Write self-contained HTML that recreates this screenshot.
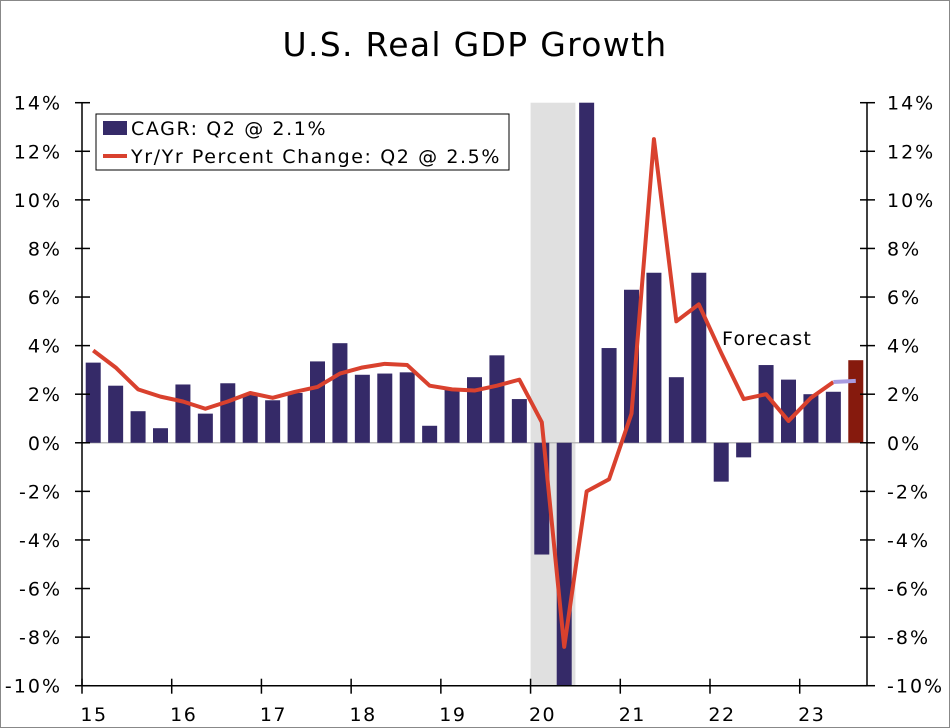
<!DOCTYPE html>
<html><head><meta charset="utf-8"><style>
body{margin:0;background:#fff}
svg{display:block;font-family:"DejaVu Sans","Liberation Sans",sans-serif}
</style></head><body>
<svg id="chart" width="950" height="728" viewBox="0 0 950 728">
<rect x="0.5" y="0.5" width="949" height="727" fill="#fff" stroke="#888"/>
<text x="475" y="56" text-anchor="middle" font-size="33" letter-spacing="1.3" fill="#000">U.S. Real GDP Growth</text>
<g id="plot"></g>
</svg>
<script>
const years = ["15","16","17","18","19","20","21","22","23"];
const yTicks = [14,12,10,8,6,4,2,0,-2,-4,-6,-8,-10];
const cagr = [3.3,2.35,1.3,0.6, 2.4,1.2,2.45,2.0, 1.75,2.05,3.35,4.1, 2.8,2.85,2.9,0.7, 2.2,2.7,3.6,1.8, -4.6,-29.9,35.0,3.9, 6.3,7.0,2.7,7.0, -1.6,-0.6,3.2,2.6, 2.0,2.1,3.4];
const forecastStart = 34;
const yoy = [3.8,3.1,2.2,1.9, 1.7,1.4,1.7,2.05, 1.85,2.1,2.3,2.85, 3.1,3.25,3.2,2.35, 2.2,2.15,2.35,2.6, 0.85,-8.4,-2.0,-1.5, 1.2,12.5,5.0,5.7, 3.7,1.8,2.0,0.9, 1.85,2.5,2.55];
const recession = [20, 22];

const NS="http://www.w3.org/2000/svg";
const g=document.getElementById('plot');
const X0=82, X1=867, Y0=102.7, Y1=685.7, YMIN=-10, YMAX=14, NQ=35;
const qw=(X1-X0)/NQ;
const xq=i=>X0+(i+0.5)*qw;
const xs=i=>X0+i*qw;
const ys=v=>Y1-(Math.max(YMIN,Math.min(YMAX,v))-YMIN)/(YMAX-YMIN)*(Y1-Y0);
function el(t,a,p){const e=document.createElementNS(NS,t);for(const k in a)e.setAttribute(k,a[k]);(p||g).appendChild(e);return e;}

const rs=el('rect',{x:xs(recession[0]),y:Y0,width:xs(recession[1])-xs(recession[0]),height:Y1-Y0,fill:'#e0e0e0'});



const zl=el('line',{x1:X0,x2:X1,y1:ys(0),y2:ys(0),stroke:'#bbb','stroke-width':1.5});



const bw=15;
cagr.forEach((v,i)=>{
  const y=ys(Math.max(v,0)), h=Math.abs(ys(v)-ys(0));
  const b=el('rect',{x:xq(i)-bw/2,y:y,width:bw,height:h,fill:i>=forecastStart?'#861a0d':'#352a68'});
  
  
});

const pts=yoy.slice(0,forecastStart).map((v,i)=>xq(i)+','+ys(v)).join(' ');
const ln=el('polyline',{points:pts,fill:'none',stroke:'#d9412e','stroke-width':4,'stroke-linejoin':'round'});


const fp=yoy.slice(forecastStart-1).map((v,i)=>xq(i+forecastStart-1)+','+ys(v)).join(' ');
const fl=el('polyline',{points:fp,fill:'none',stroke:'#a89be0','stroke-width':4});



const la=el('line',{x1:X0,x2:X0,y1:Y0,y2:Y1,stroke:'#000','stroke-width':1.5});


const ra=el('line',{x1:X1,x2:X1,y1:Y0,y2:Y1,stroke:'#000','stroke-width':1.5});


const ba=el('line',{x1:X0,x2:X1,y1:Y1,y2:Y1,stroke:'#000','stroke-width':1.5});



yTicks.forEach(v=>{
  const y=ys(v);
  el('line',{x1:X0-7,x2:X0+8,y1:y,y2:y,stroke:'#000','stroke-width':1.5});
  el('line',{x1:X1-7,x2:X1+8,y1:y,y2:y,stroke:'#000','stroke-width':1.5});
  const t1=el('text',{x:62,y:y+7,'text-anchor':'end','font-size':19,'letter-spacing':2});
  t1.textContent=v+'%';
  
  
  const t2=el('text',{x:887,y:y+7,'font-size':19,'letter-spacing':2});
  t2.textContent=v+'%';
  
  
});
years.forEach((yr,i)=>{
  const x=xs(i*4);
  el('line',{x1:x,x2:x,y1:Y1-7,y2:Y1+8,stroke:'#000','stroke-width':1.5});
  const t=el('text',{x:x+12,y:721,'text-anchor':'middle','font-size':19,'letter-spacing':1.5});
  t.textContent=yr;
  
  
});

const fc=el('text',{x:722,y:345,'font-size':19,'letter-spacing':1.2});
fc.textContent='Forecast';



const lg=el('g',{});


el('rect',{x:96,y:114,width:413,height:56,fill:'#fff',stroke:'#000','stroke-width':1},lg);
el('rect',{x:103,y:121,width:24,height:14,fill:'#352a68'},lg);
const l1=el('text',{x:131,y:135,'font-size':19,'letter-spacing':1.6},lg);
l1.textContent='CAGR: Q2 @ 2.1%';


el('line',{x1:103,x2:127,y1:156,y2:156,stroke:'#d9412e','stroke-width':4},lg);
const l2=el('text',{x:131,y:163,'font-size':19,'letter-spacing':1.6},lg);
l2.textContent='Yr/Yr Percent Change: Q2 @ 2.5%';


</script>
</body></html>
